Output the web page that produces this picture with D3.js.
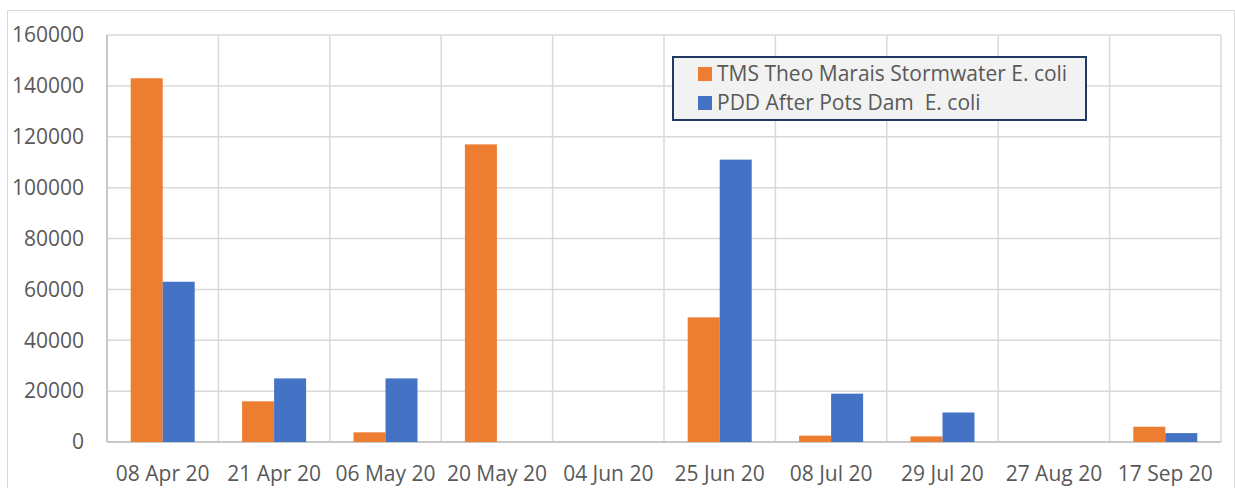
<!DOCTYPE html>
<html>
<head>
<meta charset="utf-8">
<script src="https://cdn.jsdelivr.net/npm/d3@7"></script>
<style>
  body { margin: 0; background: #fff; }
  text { font-family: "Open Sans", "Noto Sans", sans-serif; fill: #595959; white-space: pre; }
</style>
</head>
<body>
<div id="chart"></div>
<script>
// Data
var dates = ['08 Apr 20', '21 Apr 20', '06 May 20', '20 May 20', '04 Jun 20',
             '25 Jun 20', '08 Jul 20', '29 Jul 20', '27 Aug 20', '17 Sep 20'];
var tmsValues = [143000, 16000, 3800, 117000, 0, 49000, 2500, 2200, 0, 6000];
var pddValues = [63000, 25000, 25000, 0, 0, 111000, 19000, 11600, 0, 3500];
var seriesNames = ['TMS Theo Marais Stormwater E. coli', 'PDD After Pots Dam  E. coli'];
var yTicks = [0, 20000, 40000, 60000, 80000, 100000, 120000, 140000, 160000];

var width = 1235, height = 488;
var margin = {left: 107, right: 14, top: 35, bottom: 46};
var colors = ['#ED7D31', '#4472C4'];

var svg = d3.select('#chart').append('svg')
  .attr('width', width)
  .attr('height', height);

// outer chart frame
svg.append('rect')
  .attr('x', 7.5).attr('y', 10.5)
  .attr('width', width - 8).attr('height', height)
  .attr('fill', 'none')
  .attr('stroke', '#d9d9d9');

var x = d3.scaleBand()
  .domain(dates)
  .range([margin.left, width - margin.right]);

var y = d3.scaleLinear()
  .domain([0, 160000])
  .range([height - margin.bottom, margin.top]);

var bw = 32;

// horizontal gridlines
svg.selectAll('.hgrid')
  .data(yTicks)
  .enter().append('line')
  .attr('x1', margin.left).attr('x2', width - margin.right)
  .attr('y1', function(d) { return y(d); })
  .attr('y2', function(d) { return y(d); })
  .attr('stroke', '#d9d9d9')
  .attr('stroke-width', 1.5);

// vertical gridlines at category boundaries
var bounds = dates.map(function(d) { return x(d); }).concat([width - margin.right]);
svg.selectAll('.vgrid')
  .data(bounds)
  .enter().append('line')
  .attr('x1', function(d) { return d; })
  .attr('x2', function(d) { return d; })
  .attr('y1', y(160000)).attr('y2', y(0))
  .attr('stroke', '#d9d9d9')
  .attr('stroke-width', 1.5);

// axis lines
svg.append('line')
  .attr('x1', margin.left).attr('x2', margin.left)
  .attr('y1', y(160000)).attr('y2', y(0))
  .attr('stroke', '#bfbfbf').attr('stroke-width', 1.5);
svg.append('line')
  .attr('x1', margin.left).attr('x2', width - margin.right)
  .attr('y1', y(0)).attr('y2', y(0))
  .attr('stroke', '#bfbfbf').attr('stroke-width', 1.5);

// bars
[tmsValues, pddValues].forEach(function(vals, s) {
  svg.selectAll('.bar' + s)
    .data(vals)
    .enter().append('rect')
    .attr('x', function(d, i) { return x(dates[i]) + x.bandwidth() / 2 - bw + s * bw; })
    .attr('y', function(d) { return y(d); })
    .attr('width', bw)
    .attr('height', function(d) { return y(0) - y(d); })
    .attr('fill', colors[s]);
});

// y tick labels
svg.selectAll('.ylab')
  .data(yTicks)
  .enter().append('text')
  .attr('x', 84)
  .attr('y', function(d) { return y(d); })
  .attr('dy', '0.35em')
  .attr('text-anchor', 'end')
  .style('font-size', '21px')
  .text(function(d) { return d; });

// x tick labels
svg.selectAll('.xlab')
  .data(dates)
  .enter().append('text')
  .attr('x', function(d) { return x(d) + x.bandwidth() / 2; })
  .attr('y', 481)
  .attr('text-anchor', 'middle')
  .style('font-size', '21px')
  .text(function(d) { return d; });

// legend
var legend = svg.append('g').attr('transform', 'translate(673,57)');
legend.append('rect')
  .attr('width', 413).attr('height', 63)
  .attr('fill', '#f2f2f2')
  .attr('stroke', '#1f3864')
  .attr('stroke-width', 2);
seriesNames.forEach(function(name, i) {
  legend.append('rect')
    .attr('x', 25).attr('y', 10 + i * 29)
    .attr('width', 14).attr('height', 14)
    .attr('fill', colors[i]);
  legend.append('text')
    .attr('x', 44).attr('y', 17 + i * 29)
    .attr('dy', '0.35em')
    .style('font-size', '21px')
    .text(name);
});
</script>
</body>
</html>
